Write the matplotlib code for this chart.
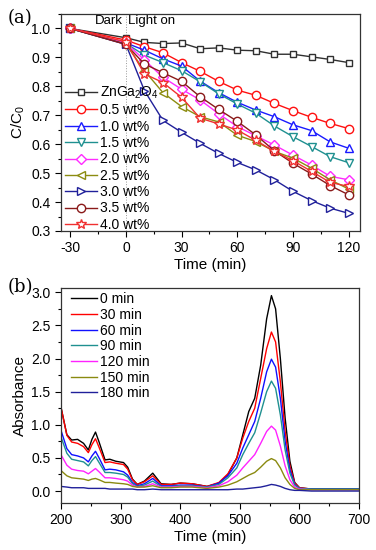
import matplotlib
matplotlib.use("Agg")
import matplotlib.pyplot as plt
from matplotlib.ticker import MultipleLocator
import numpy as np

plt.rcParams['font.family'] = ['Liberation Sans', 'DejaVu Sans']
plt.rcParams['mathtext.fontset'] = 'custom'
plt.rcParams['mathtext.rm'] = 'Liberation Sans'

# ---- panel (a): degradation curves ----
time_min = [-30, 0, 10, 20, 30, 40, 50, 60, 70, 80, 90, 100, 110, 120]
labels_a = ['ZnGa$_2$O$_4$', '0.5 wt%', '1.0 wt%', '1.5 wt%', '2.0 wt%',
            '2.5 wt%', '3.0 wt%', '3.5 wt%', '4.0 wt%']
c_zga = [1.0, 0.968, 0.952, 0.948, 0.950, 0.930, 0.933, 0.925, 0.923, 0.911, 0.911, 0.902, 0.893, 0.882]
c_05 = [1.0, 0.960, 0.937, 0.916, 0.882, 0.852, 0.817, 0.787, 0.769, 0.741, 0.716, 0.693, 0.672, 0.654]
c_10 = [1.0, 0.950, 0.925, 0.895, 0.870, 0.818, 0.778, 0.745, 0.718, 0.695, 0.667, 0.647, 0.608, 0.586]
c_15 = [1.0, 0.948, 0.908, 0.882, 0.854, 0.816, 0.774, 0.739, 0.707, 0.663, 0.626, 0.592, 0.557, 0.536]
c_20 = [1.0, 0.950, 0.891, 0.831, 0.790, 0.753, 0.705, 0.661, 0.629, 0.597, 0.562, 0.528, 0.489, 0.477]
c_25 = [1.0, 0.946, 0.854, 0.778, 0.730, 0.695, 0.677, 0.631, 0.609, 0.575, 0.552, 0.517, 0.477, 0.445]
c_30 = [1.0, 0.945, 0.785, 0.682, 0.641, 0.603, 0.568, 0.537, 0.511, 0.477, 0.437, 0.405, 0.379, 0.361]
c_35 = [1.0, 0.945, 0.877, 0.847, 0.817, 0.764, 0.720, 0.679, 0.632, 0.577, 0.534, 0.497, 0.457, 0.425]
c_40 = [1.0, 0.954, 0.843, 0.813, 0.762, 0.690, 0.670, 0.649, 0.613, 0.575, 0.543, 0.506, 0.468, 0.454]

# ---- panel (b): absorption spectra ----
wl = [200, 210, 218, 228, 238, 246, 252, 258, 264, 274, 282, 292, 305, 312, 320, 328,
      340, 354, 368, 385, 400, 420, 445, 465, 480, 495, 505, 515, 525, 535, 545, 553,
      560, 568, 576, 584, 592, 600, 620, 700]
labels_b = ['0 min', '30 min', '60 min', '90 min', '120 min', '150 min', '180 min']
a_0 = [1.27, 0.85, 0.77, 0.78, 0.72, 0.62, 0.78, 0.89, 0.74, 0.47, 0.48, 0.45, 0.43, 0.36, 0.18, 0.10,
       0.15, 0.27, 0.11, 0.10, 0.12, 0.11, 0.07, 0.12, 0.25, 0.50, 0.85, 1.20, 1.40, 1.90, 2.60, 2.95,
       2.75, 2.00, 1.10, 0.45, 0.13, 0.05, 0.03, 0.03]
a_30 = [1.27, 0.84, 0.74, 0.72, 0.67, 0.58, 0.70, 0.79, 0.66, 0.43, 0.44, 0.42, 0.40, 0.33, 0.17, 0.10,
        0.14, 0.23, 0.10, 0.10, 0.12, 0.11, 0.07, 0.13, 0.26, 0.50, 0.80, 1.05, 1.25, 1.70, 2.15, 2.40,
        2.25, 1.65, 0.90, 0.38, 0.12, 0.05, 0.03, 0.03]
a_60 = [0.92, 0.64, 0.55, 0.53, 0.50, 0.44, 0.53, 0.60, 0.50, 0.32, 0.33, 0.32, 0.29, 0.24, 0.13, 0.08,
        0.11, 0.19, 0.08, 0.08, 0.09, 0.09, 0.06, 0.12, 0.23, 0.42, 0.65, 0.85, 1.05, 1.40, 1.80, 1.99,
        1.87, 1.40, 0.75, 0.32, 0.10, 0.04, 0.03, 0.03]
a_90 = [0.82, 0.57, 0.48, 0.46, 0.44, 0.38, 0.46, 0.52, 0.43, 0.28, 0.28, 0.27, 0.25, 0.21, 0.11, 0.07,
        0.09, 0.15, 0.07, 0.07, 0.08, 0.08, 0.06, 0.10, 0.20, 0.35, 0.55, 0.72, 0.88, 1.18, 1.50, 1.66,
        1.55, 1.15, 0.62, 0.27, 0.09, 0.04, 0.03, 0.03]
a_120 = [0.55, 0.39, 0.33, 0.31, 0.30, 0.26, 0.30, 0.34, 0.29, 0.20, 0.20, 0.19, 0.17, 0.15, 0.09, 0.06,
         0.07, 0.11, 0.06, 0.06, 0.07, 0.07, 0.05, 0.08, 0.14, 0.24, 0.35, 0.45, 0.55, 0.72, 0.90, 0.98,
         0.92, 0.68, 0.38, 0.17, 0.06, 0.03, 0.02, 0.02]
a_150 = [0.31, 0.23, 0.20, 0.19, 0.18, 0.16, 0.18, 0.19, 0.17, 0.13, 0.13, 0.12, 0.11, 0.10, 0.07, 0.06,
         0.06, 0.08, 0.05, 0.05, 0.06, 0.06, 0.04, 0.06, 0.09, 0.14, 0.19, 0.24, 0.28, 0.36, 0.45, 0.49,
         0.46, 0.35, 0.20, 0.10, 0.04, 0.02, 0.02, 0.02]
a_180 = [0.07, 0.06, 0.05, 0.05, 0.05, 0.04, 0.04, 0.04, 0.04, 0.04, 0.03, 0.03, 0.03, 0.03, 0.03, 0.02,
         0.02, 0.03, 0.02, 0.02, 0.02, 0.02, 0.02, 0.02, 0.02, 0.03, 0.03, 0.04, 0.05, 0.06, 0.08, 0.10,
         0.09, 0.07, 0.04, 0.02, 0.01, 0.01, 0.00, 0.00]

fig = plt.figure(figsize=(3.76, 5.5), dpi=100)
ax1 = fig.add_axes([0.162, 0.58, 0.795, 0.3945])
ax2 = fig.add_axes([0.162, 0.0855, 0.793, 0.3915])

series_a = [c_zga, c_05, c_10, c_15, c_20, c_25, c_30, c_35, c_40]
colors_a = ['#303030', '#ff1010', '#1a1aff', '#1f9090', '#ff2bff', '#8c8c10', '#20209a', '#8a1a1a', '#f03030']
markers_a = ['s', 'o', '^', 'v', 'D', '<', '>', 'o', '*']
sizes_a = [5, 6, 6, 6, 5, 6, 6, 6, 7]
for y, c, m, s, lab in zip(series_a, colors_a, markers_a, sizes_a, labels_a):
    ax1.plot(time_min, y, color=c, marker=m, ms=s, mfc='white', mec=c, mew=1.0, lw=1.0, label=lab)

ax1.axvline(0, color='#999999', lw=0.7, ls=':', zorder=0)
ax1.text(-1.5, 1.026, 'Dark', ha='right', va='center', fontsize=9.5)
ax1.text(1.3, 1.026, 'Light on', ha='left', va='center', fontsize=9.5)

ax1.set_xlim(-35, 126)
ax1.set_ylim(0.3, 1.05)
ax1.set_xticks([-30, 0, 30, 60, 90, 120])
ax1.xaxis.set_minor_locator(MultipleLocator(15))
ax1.set_yticks(np.arange(0.3, 1.01, 0.1))
ax1.yaxis.set_minor_locator(MultipleLocator(0.05))
ax1.set_xlabel('Time (min)', fontsize=11, labelpad=2)
ax1.set_ylabel('C/C$_0$', fontsize=11, labelpad=3)
ax1.legend(loc='upper left', bbox_to_anchor=(0.013, 0.675), frameon=False, fontsize=10,
           borderaxespad=0, borderpad=0, labelspacing=0.17, handlelength=2.3, handletextpad=0.2)

series_b = [a_0, a_30, a_60, a_90, a_120, a_150, a_180]
colors_b = ['#000000', '#ff0000', '#1010ff', '#1f9090', '#ff22ff', '#8a8a10', '#20209a']
for y, c, lab in zip(series_b, colors_b, labels_b):
    ax2.plot(wl, y, color=c, lw=1.0, label=lab)

ax2.set_xlim(200, 700)
ax2.set_ylim(-0.18, 3.07)
ax2.set_xticks([200, 300, 400, 500, 600, 700])
ax2.xaxis.set_minor_locator(MultipleLocator(50))
ax2.set_yticks(np.arange(0, 3.01, 0.5))
ax2.yaxis.set_minor_locator(MultipleLocator(0.25))
ax2.set_xlabel('Time (min)', fontsize=11, labelpad=2)
ax2.set_ylabel('Absorbance', fontsize=11, labelpad=3)
ax2.legend(loc='upper left', bbox_to_anchor=(0.033, 0.979), frameon=False, fontsize=10,
           borderaxespad=0, borderpad=0, labelspacing=0.12, handlelength=1.9, handletextpad=0.2)

for ax in (ax1, ax2):
    ax.yaxis.set_major_formatter(matplotlib.ticker.FormatStrFormatter('%.1f'))
    ax.tick_params(which='both', direction='out', top=False, right=False, labelsize=10)
    ax.tick_params(which='major', length=4, width=0.8)
    ax.tick_params(which='minor', length=2.5, width=0.8)
    for sp in ax.spines.values():
        sp.set_linewidth(0.9)
        sp.set_color('#333333')
ax1.xaxis.set_major_formatter(matplotlib.ticker.FormatStrFormatter('%d'))
ax2.xaxis.set_major_formatter(matplotlib.ticker.FormatStrFormatter('%d'))

fig.text(0.02, 0.968, '(a)', family='DejaVu Serif', fontsize=13, va='center')
fig.text(0.02, 0.478, '(b)', family='DejaVu Serif', fontsize=13, va='center')

fig.savefig('out.png', dpi=100)
